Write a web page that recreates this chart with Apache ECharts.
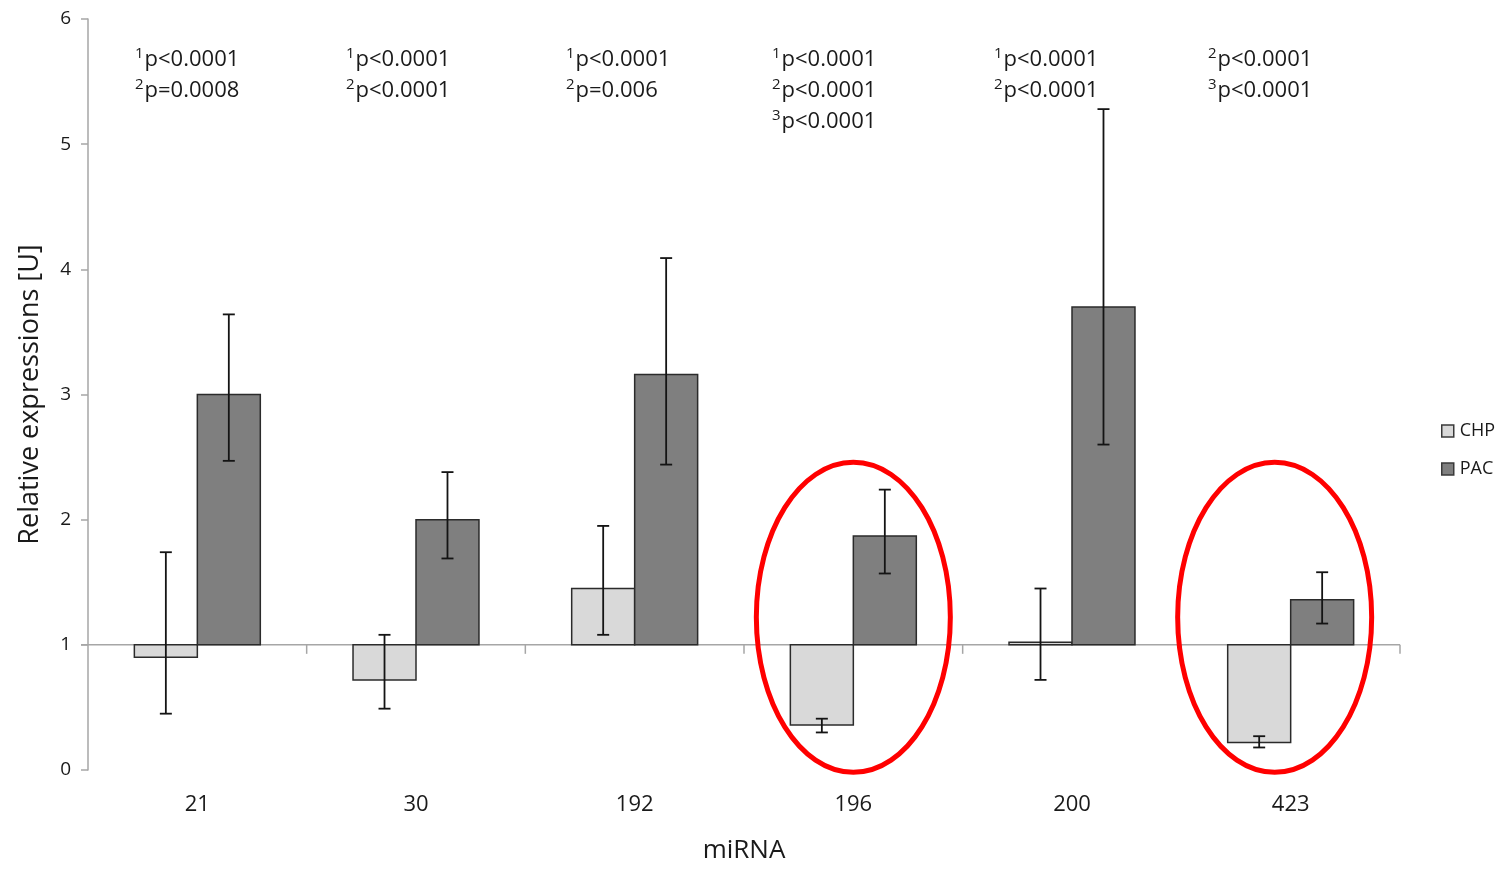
<!DOCTYPE html>
<html>
<head>
<meta charset="utf-8">
<script src="https://cdn.jsdelivr.net/npm/echarts@6/dist/echarts.min.js"></script>
<style>html,body{margin:0;padding:0;background:#fff}#c{width:1499px;height:869px}</style>
</head>
<body>
<div id="c"></div>
<script>
const categories = ['21', '30', '192', '196', '200', '423'];
const chpValues = [0.90, 0.72, 1.45, 0.36, 1.02, 0.22];
const chpLow    = [0.45, 0.49, 1.08, 0.30, 0.72, 0.18];
const chpHigh   = [1.74, 1.08, 1.95, 0.41, 1.45, 0.27];
const pacValues = [3.00, 2.00, 3.16, 1.87, 3.70, 1.36];
const pacLow    = [2.47, 1.69, 2.44, 1.57, 2.60, 1.17];
const pacHigh   = [3.64, 2.38, 4.09, 2.24, 5.28, 1.58];
const yTicks = [0, 1, 2, 3, 4, 5, 6];
const baseline = 1;
const annotations = [
  [['1', 'p<0.0001'], ['2', 'p=0.0008']],
  [['1', 'p<0.0001'], ['2', 'p<0.0001']],
  [['1', 'p<0.0001'], ['2', 'p=0.006']],
  [['1', 'p<0.0001'], ['2', 'p<0.0001'], ['3', 'p<0.0001']],
  [['1', 'p<0.0001'], ['2', 'p<0.0001']],
  [['2', 'p<0.0001'], ['3', 'p<0.0001']]
];
const highlighted = ['196', '423'];

const FONT = '"Open Sans", "Noto Sans", sans-serif';
const TXT = '#1a1a1a';
const CHP_COLOR = '#d9d9d9';
const PAC_COLOR = '#7f7f7f';
const EDGE = '#2b2b2b';
const AXIS = '#a6a6a6';

function makeData(vals, lo, hi) {
  return vals.map((v, i) => [i, v, lo[i], hi[i]]);
}

function barRenderer(side, color) {
  return function (params, api) {
    const i = api.value(0);
    const v = api.value(1);
    const lo = api.value(2);
    const hi = api.value(3);
    const band = api.size([1, 0])[0];
    const barW = band * 0.288;
    const center = api.coord([i, baseline])[0];
    const yBase = api.coord([i, baseline])[1];
    const yVal = api.coord([i, v])[1];
    const x0 = side < 0 ? center - barW : center;
    const ex = x0 + barW / 2;
    const yLo = api.coord([i, lo])[1];
    const yHi = api.coord([i, hi])[1];
    const cap = 6;
    const es = { stroke: '#141414', lineWidth: 1.8 };
    return {
      type: 'group',
      children: [
        {
          type: 'rect',
          shape: { x: x0, y: Math.min(yBase, yVal), width: barW, height: Math.abs(yBase - yVal) },
          style: { fill: color, stroke: EDGE, lineWidth: 1.5 }
        },
        { type: 'line', shape: { x1: ex, y1: yLo, x2: ex, y2: yHi }, style: es },
        { type: 'line', shape: { x1: ex - cap, y1: yLo, x2: ex + cap, y2: yLo }, style: es },
        { type: 'line', shape: { x1: ex - cap, y1: yHi, x2: ex + cap, y2: yHi }, style: es }
      ]
    };
  };
}

const chart = echarts.init(document.getElementById('c'), null, { renderer: 'canvas' });

const option = {
  backgroundColor: '#fff',
  animation: false,
  grid: { left: 88, right: 99, top: 19, bottom: 95, containLabel: false },
  legend: {
    orient: 'vertical',
    left: 1436,
    top: 417,
    itemWidth: 12,
    itemHeight: 12,
    itemGap: 20,
    textStyle: { fontFamily: FONT, fontSize: 18, color: TXT, padding: [0, 0, 0, 1] },
    data: [
      { name: 'CHP', icon: 'rect', itemStyle: { color: CHP_COLOR, borderColor: '#3a3a3a', borderWidth: 1.5 } },
      { name: 'PAC', icon: 'rect', itemStyle: { color: PAC_COLOR, borderColor: '#3a3a3a', borderWidth: 1.5 } }
    ]
  },
  xAxis: {
    type: 'category',
    data: categories,
    axisLine: { show: false },
    axisTick: { show: false },
    axisLabel: { fontFamily: FONT, fontSize: 22, color: TXT, margin: 24 },
    name: 'miRNA',
    nameLocation: 'middle',
    nameGap: 68,
    nameTextStyle: { fontFamily: FONT, fontSize: 26, color: TXT }
  },
  yAxis: {
    type: 'value',
    min: yTicks[0],
    max: yTicks[yTicks.length - 1],
    interval: 1,
    axisLine: { show: true, lineStyle: { color: AXIS, width: 1.5 } },
    axisTick: { show: true, inside: false, length: 7, lineStyle: { color: AXIS, width: 1.5 } },
    splitLine: { show: false },
    axisLabel: { fontFamily: FONT, fontSize: 19, color: TXT, margin: 17 },
    name: 'Relative expressions [U]',
    nameLocation: 'middle',
    nameGap: 44,
    nameTextStyle: { fontFamily: FONT, fontSize: 27, color: TXT }
  },
  series: [
    {
      name: 'baseline',
      type: 'custom',
      silent: true,
      z: 1,
      data: [[0, baseline]],
      renderItem: function (params, api) {
        const cs = params.coordSys;
        const y = api.coord([0, baseline])[1];
        const band = api.size([1, 0])[0];
        const children = [
          { type: 'line', shape: { x1: cs.x - 7, y1: y, x2: cs.x + cs.width, y2: y }, style: { stroke: AXIS, lineWidth: 1.5 } }
        ];
        for (let k = 1; k <= categories.length; k++) {
          const x = cs.x + k * band;
          children.push({ type: 'line', shape: { x1: x, y1: y, x2: x, y2: y + 9 }, style: { stroke: AXIS, lineWidth: 1.5 } });
        }
        return { type: 'group', children: children };
      }
    },
    {
      name: 'CHP',
      type: 'custom',
      z: 3,
      itemStyle: { color: CHP_COLOR },
      data: makeData(chpValues, chpLow, chpHigh),
      encode: { x: 0, y: [1, 2, 3] },
      renderItem: barRenderer(-1, CHP_COLOR)
    },
    {
      name: 'PAC',
      type: 'custom',
      z: 3,
      itemStyle: { color: PAC_COLOR },
      data: makeData(pacValues, pacLow, pacHigh),
      encode: { x: 0, y: [1, 2, 3] },
      renderItem: barRenderer(1, PAC_COLOR)
    }
  ]
};

chart.setOption(option);

// annotations and highlight ellipses
const annLeft = [135, 346, 566, 772, 994, 1208];
const graphics = [];
annotations.forEach((lines, i) => {
  const text = lines.map(l => '{s|' + l[0] + '}{t|' + l[1] + '}').join('\n');
  graphics.push({
    type: 'text',
    left: annLeft[i],
    top: 44,
    z: 10,
    style: {
      text: text,
      fontFamily: FONT,
      fontSize: 22,
      lineHeight: 31,
      fill: TXT,
      rich: {
        s: { fontFamily: FONT, fontSize: 15, verticalAlign: 'top', lineHeight: 31, fill: TXT, padding: [2, 1, 6, 0] },
        t: { fontFamily: FONT, fontSize: 22, lineHeight: 31, fill: TXT }
      }
    }
  });
});
highlighted.forEach((cat, k) => {
  const idx = categories.indexOf(cat);
  const p = chart.convertToPixel({ xAxisIndex: 0, yAxisIndex: 0 }, [idx, 1.22]);
  const shift = k === 0 ? 0 : -16;
  graphics.push({
    type: 'ellipse',
    z: 20,
    shape: { cx: p[0] + shift, cy: p[1], rx: 97, ry: 155 },
    style: { fill: 'none', stroke: '#ff0000', lineWidth: 5 }
  });
});
chart.setOption({ graphic: graphics });
</script>
</body>
</html>
